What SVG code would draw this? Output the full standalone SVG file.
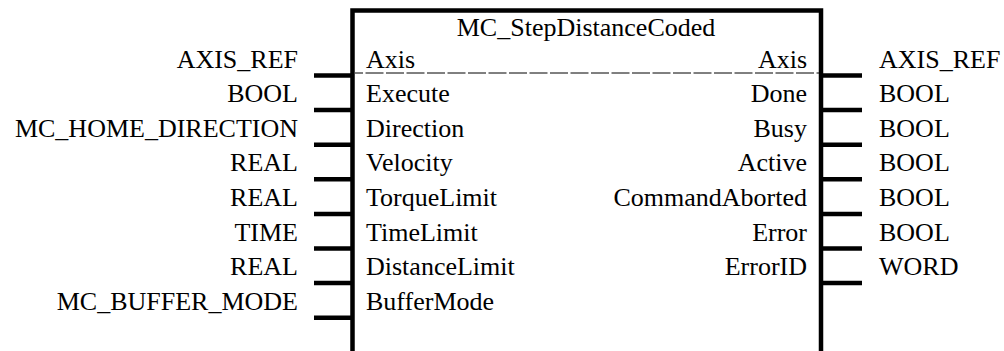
<svg xmlns="http://www.w3.org/2000/svg" width="1004" height="351" viewBox="0 0 1004 351">
  <defs>
    <!-- shared pin stub, drawn at each port row -->
    <line id="pinL" x1="314" y1="0" x2="352" y2="0" stroke="#000" stroke-width="4.5"/>
    <line id="pinR" x1="821" y1="0" x2="862" y2="0" stroke="#000" stroke-width="4.5"/>
  </defs>

  <rect width="1004" height="351" fill="#fff"/>

  <!-- Function block MC_StepDistanceCoded -->
  <g id="fb" fill="#000">
    <path d="M352.5,360 V10.5 H821 V360" fill="none" stroke="#000" stroke-width="4.5" stroke-linejoin="miter"/>
    <text x="586" y="36" text-anchor="middle" font-family="Liberation Serif, Times New Roman, serif" font-size="26">MC_StepDistanceCoded</text>
    <line x1="355" y1="73" x2="819" y2="73" stroke="#000" stroke-width="1" stroke-dasharray="18 2.5" stroke-dashoffset="10"/>
    <!-- inputs -->
    <g text-anchor="start">
      <text x="366" y="67.5" font-family="Liberation Serif, Times New Roman, serif" font-size="26">Axis</text>
      <text x="366" y="102.1" font-family="Liberation Serif, Times New Roman, serif" font-size="26">Execute</text>
      <text x="366" y="136.7" font-family="Liberation Serif, Times New Roman, serif" font-size="26">Direction</text>
      <text x="366" y="171.3" font-family="Liberation Serif, Times New Roman, serif" font-size="26">Velocity</text>
      <text x="366" y="205.9" font-family="Liberation Serif, Times New Roman, serif" font-size="26">TorqueLimit</text>
      <text x="366" y="240.5" font-family="Liberation Serif, Times New Roman, serif" font-size="26">TimeLimit</text>
      <text x="366" y="275.1" font-family="Liberation Serif, Times New Roman, serif" font-size="26">DistanceLimit</text>
      <text x="366" y="309.7" font-family="Liberation Serif, Times New Roman, serif" font-size="26">BufferMode</text>
    </g>
    <!-- outputs -->
    <g text-anchor="end">
      <text x="807" y="67.5" font-family="Liberation Serif, Times New Roman, serif" font-size="26">Axis</text>
      <text x="807" y="102.1" font-family="Liberation Serif, Times New Roman, serif" font-size="26">Done</text>
      <text x="807" y="136.7" font-family="Liberation Serif, Times New Roman, serif" font-size="26">Busy</text>
      <text x="807" y="171.3" font-family="Liberation Serif, Times New Roman, serif" font-size="26">Active</text>
      <text x="807" y="205.9" font-family="Liberation Serif, Times New Roman, serif" font-size="26">CommandAborted</text>
      <text x="807" y="240.5" font-family="Liberation Serif, Times New Roman, serif" font-size="26">Error</text>
      <text x="807" y="275.1" font-family="Liberation Serif, Times New Roman, serif" font-size="26">ErrorID</text>
    </g>
  </g>

  <!-- Input data types -->
  <g text-anchor="end" fill="#000">
    <g id="in-axis"><text x="298" y="67.5" font-family="Liberation Serif, Times New Roman, serif" font-size="26">AXIS_REF</text></g>
    <g id="in-execute"><text x="298" y="102.1" font-family="Liberation Serif, Times New Roman, serif" font-size="26">BOOL</text></g>
    <g id="in-direction"><text x="298" y="136.7" font-family="Liberation Serif, Times New Roman, serif" font-size="26">MC_HOME_DIRECTION</text></g>
    <g id="in-velocity"><text x="298" y="171.3" font-family="Liberation Serif, Times New Roman, serif" font-size="26">REAL</text></g>
    <g id="in-torquelimit"><text x="298" y="205.9" font-family="Liberation Serif, Times New Roman, serif" font-size="26">REAL</text></g>
    <g id="in-timelimit"><text x="298" y="240.5" font-family="Liberation Serif, Times New Roman, serif" font-size="26">TIME</text></g>
    <g id="in-distancelimit"><text x="298" y="275.1" font-family="Liberation Serif, Times New Roman, serif" font-size="26">REAL</text></g>
    <g id="in-buffermode"><text x="298" y="309.7" font-family="Liberation Serif, Times New Roman, serif" font-size="26">MC_BUFFER_MODE</text></g>
  </g>

  <!-- Output data types -->
  <g fill="#000">
    <g id="out-axis"><text x="879" y="67.5" font-family="Liberation Serif, Times New Roman, serif" font-size="26">AXIS_REF</text></g>
    <g id="out-done"><text x="879" y="102.1" font-family="Liberation Serif, Times New Roman, serif" font-size="26">BOOL</text></g>
    <g id="out-busy"><text x="879" y="136.7" font-family="Liberation Serif, Times New Roman, serif" font-size="26">BOOL</text></g>
    <g id="out-active"><text x="879" y="171.3" font-family="Liberation Serif, Times New Roman, serif" font-size="26">BOOL</text></g>
    <g id="out-commandaborted"><text x="879" y="205.9" font-family="Liberation Serif, Times New Roman, serif" font-size="26">BOOL</text></g>
    <g id="out-error"><text x="879" y="240.5" font-family="Liberation Serif, Times New Roman, serif" font-size="26">BOOL</text></g>
    <g id="out-errorid"><text x="879" y="275.1" font-family="Liberation Serif, Times New Roman, serif" font-size="26">WORD</text></g>
  </g>

  <!-- Pin lines -->
  <g id="connectors">
    <use href="#pinL" y="75.5"/>
    <use href="#pinL" y="110.1"/>
    <use href="#pinL" y="144.7"/>
    <use href="#pinL" y="179.3"/>
    <use href="#pinL" y="213.9"/>
    <use href="#pinL" y="248.5"/>
    <use href="#pinL" y="283.1"/>
    <use href="#pinL" y="317.7"/>

    <use href="#pinR" y="75.5"/>
    <use href="#pinR" y="110.1"/>
    <use href="#pinR" y="144.7"/>
    <use href="#pinR" y="179.3"/>
    <use href="#pinR" y="213.9"/>
    <use href="#pinR" y="248.5"/>
    <use href="#pinR" y="283.1"/>
  </g>
</svg>
